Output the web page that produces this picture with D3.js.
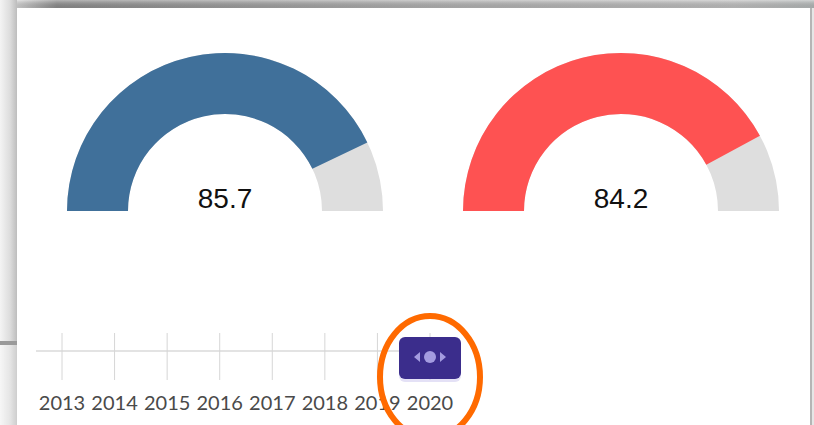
<!DOCTYPE html>
<html><head><meta charset="utf-8">
<script src="https://cdn.jsdelivr.net/npm/d3@7"></script>
<style>html,body{margin:0;padding:0;background:#fff;overflow:hidden}</style>
</head><body>
<svg id="c" width="814" height="425"></svg>
<script>
const gaugeValues = [85.7, 84.2];
const gaugeColors = ["#40709a", "#fe5252"];
const gaugeMax = 100;
const years = [2013, 2014, 2015, 2016, 2017, 2018, 2019, 2020];
const selectedYear = 2020;

const svg = d3.select("#c");
const defs = svg.append("defs");
const gl = defs.append("linearGradient").attr("id","gl").attr("x1","0").attr("x2","1").attr("y1","0").attr("y2","0");
gl.append("stop").attr("offset","0").attr("stop-color","#f4f4f4");
gl.append("stop").attr("offset","0.6").attr("stop-color","#dcdcdc");
gl.append("stop").attr("offset","1").attr("stop-color","#bdbdbd");
const gt = defs.append("linearGradient").attr("id","gt").attr("x1","0").attr("x2","1").attr("y1","0").attr("y2","0");
gt.append("stop").attr("offset","0").attr("stop-color","#d8d8d8");
gt.append("stop").attr("offset","0.05").attr("stop-color","#8e8e8e");
gt.append("stop").attr("offset","0.5").attr("stop-color","#b4b4b4");
gt.append("stop").attr("offset","0.9").attr("stop-color","#c4c4c4");
gt.append("stop").attr("offset","1").attr("stop-color","#b8bcbc");
const gtv = defs.append("linearGradient").attr("id","gtv").attr("x1","0").attr("x2","0").attr("y1","0").attr("y2","1");
gtv.append("stop").attr("offset","0").attr("stop-color","#fff").attr("stop-opacity",0.35);
gtv.append("stop").attr("offset","1").attr("stop-color","#000").attr("stop-opacity",0.1);

// frame
svg.append("rect").attr("x",0).attr("y",0).attr("width",814).attr("height",425).attr("fill","#fff");
svg.append("rect").attr("x",0).attr("y",0).attr("width",17).attr("height",425).attr("fill","url(#gl)");
svg.append("rect").attr("x",0).attr("y",341).attr("width",17).attr("height",4).attr("fill","#9a9a9a");
svg.append("rect").attr("x",0).attr("y",345).attr("width",17).attr("height",80).attr("fill","#fff").attr("opacity",0.25);
svg.append("rect").attr("x",17).attr("y",0).attr("width",797).attr("height",8).attr("fill","url(#gt)");
svg.append("rect").attr("x",17).attr("y",0).attr("width",797).attr("height",8).attr("fill","url(#gtv)");
svg.append("rect").attr("x",810).attr("y",8).attr("width",2).attr("height",417).attr("fill","#b5b5b5");
svg.append("rect").attr("x",812).attr("y",8).attr("width",2).attr("height",417).attr("fill","#e6e6e6");

// gauges
const angle = d3.scaleLinear().domain([0, gaugeMax]).range([-Math.PI/2, Math.PI/2]);
const arc = d3.arc().innerRadius(97).outerRadius(158);
const centers = [225, 621];
gaugeValues.forEach((v, i) => {
  const g = svg.append("g").attr("transform", `translate(${centers[i]},211)`);
  g.append("path").attr("d", arc({startAngle: angle(0), endAngle: angle(gaugeMax)})).attr("fill", "#dedede");
  g.append("path").attr("d", arc({startAngle: angle(0), endAngle: angle(v)})).attr("fill", gaugeColors[i]);
  g.append("text").attr("x", 0).attr("y", -3).attr("text-anchor","middle")
    .style("font-family","Liberation Sans, Arial, sans-serif").style("font-size","28px").attr("fill","#111")
    .text(v.toFixed(1));
});

// year slider
const x = d3.scaleLinear().domain([years[0], years[years.length-1]]).range([62, 430]);
svg.append("line").attr("x1",36).attr("x2",430).attr("y1",351).attr("y2",351).attr("stroke","#c8c8c8").attr("stroke-width",1.2);
svg.selectAll(".tk").data(years).enter().append("line").attr("class","tk")
  .attr("x1",d=>x(d)).attr("x2",d=>x(d)).attr("y1",333).attr("y2",380).attr("stroke","#d6d6d6").attr("stroke-width",1);
svg.selectAll(".yl").data(years).enter().append("text").attr("class","yl")
  .attr("x",d=>x(d)).attr("y",410).attr("text-anchor","middle")
  .style("font-family","Lato, sans-serif").style("font-size","20px").attr("fill","#4a4a4a").text(d=>d);

// handle
const hx = x(selectedYear);
svg.append("rect").attr("x",hx-31).attr("y",340).attr("width",62).attr("height",42).attr("rx",6).attr("fill","#c9c3ee").attr("opacity",0.5);
svg.append("rect").attr("x",hx-31).attr("y",337).attr("width",62).attr("height",42).attr("rx",6).attr("fill","#3b2d8c");
svg.append("circle").attr("cx",hx).attr("cy",357).attr("r",6).attr("fill","#a49ce0");
svg.append("path").attr("d",`M${hx-16},357 L${hx-10},352 L${hx-10},362 Z`).attr("fill","#a49ce0");
svg.append("path").attr("d",`M${hx+16},357 L${hx+10},352 L${hx+10},362 Z`).attr("fill","#a49ce0");

// annotation circle
svg.append("ellipse").attr("cx",430).attr("cy",377).attr("rx",50).attr("ry",61)
  .attr("fill","none").attr("stroke","#ff6a00").attr("stroke-width",6);
</script>
</body></html>
